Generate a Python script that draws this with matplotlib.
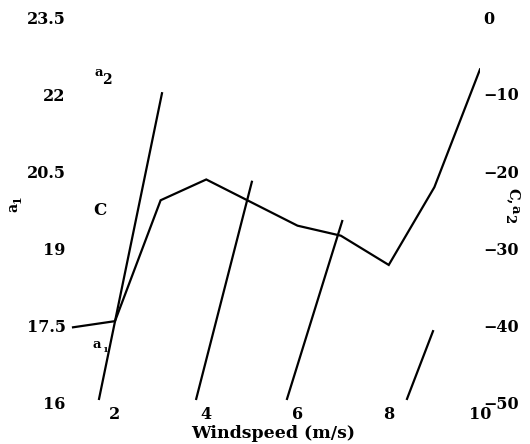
import numpy as np
import matplotlib
matplotlib.use("Agg")
import matplotlib.pyplot as plt

# ---- data ----
windspeed_c = [1.08, 2.0, 3.0, 4.0, 6.0, 6.95, 8.0, 9.0, 10.0]
c_values = [-40.3, -39.5, -23.8, -21.1, -27.1, -28.4, -32.2, -22.1, -6.8]

# a2 (wrapping slanted segments), NaN separates segments
a2_x = [1.65, 3.03, np.nan, 3.78, 5.0, np.nan, 5.77, 6.98, np.nan, 8.40, 8.97]
a2_y = [-49.6, -9.9, np.nan, -49.6, -21.4, np.nan, -49.6, -26.5, np.nan, -49.6, -40.8]

x_ticks = [2, 4, 6, 8, 10]
left_ticks = [16, 17.5, 19, 20.5, 22, 23.5]
left_labels = ["16", "17.5", "19", "20.5", "22", "23.5"]
right_ticks = [-50, -40, -30, -20, -10, 0]
right_labels = ["\u221250", "\u221240", "\u221230", "\u221220", "\u221210", "0"]

W, H = 530, 444
plt.rcParams['font.family'] = ['DejaVu Serif']
plt.rcParams['mathtext.fontset'] = 'dejavuserif'
fig = plt.figure(figsize=(W / 100, H / 100), dpi=100)

def fx(px):
    return px / W

def fy(py):
    return 1 - py / H

TF = 11.5

# axes box in pixels
L, R, T, B = 70, 480, 17, 402
ax = fig.add_axes([fx(L), fy(B), (R - L) / W, (B - T) / H])
ax.set_xlim(2 - (115 - L) / 45.625, 10)
ax.set_ylim(16, 23.5)
for s in ax.spines.values():
    s.set_visible(False)
ax.set_xticks(x_ticks)
ax.set_xticklabels([str(v) for v in x_ticks], fontsize=TF, fontweight='bold')
ax.set_yticks(left_ticks)
ax.set_yticklabels(left_labels, fontsize=TF, fontweight='bold')
ax.tick_params(axis='both', length=0)
ax.tick_params(axis='y', pad=3)
ax.tick_params(axis='x', pad=3)
ax.patch.set_alpha(0)

ax2 = ax.twinx()
ax2.set_ylim(-50, 0)
for s in ax2.spines.values():
    s.set_visible(False)
ax2.set_yticks(right_ticks)
ax2.set_yticklabels(right_labels, fontsize=TF, fontweight='bold')
ax2.tick_params(axis='y', length=0, pad=2)

ax2.plot(windspeed_c, c_values, color='black', lw=1.6, solid_joinstyle='miter')
ax2.plot(a2_x, a2_y, color='black', lw=1.6)

# labels
fig.text(fx(273), fy(433), "Windspeed (m/s)", ha='center', va='center',
         fontsize=12.5, fontweight='bold')
fig.text(fx(13), fy(207), "a", rotation=90, ha='center', va='center',
         fontsize=10, fontweight='bold')
fig.text(fx(17), fy(199), "1", rotation=90, ha='center', va='center',
         fontsize=8, fontweight='bold')
fig.text(fx(513), fy(196), "C,", rotation=-90, ha='center', va='center',
         fontsize=10.5, fontweight='bold')
fig.text(fx(515), fy(209), "a", rotation=-90, ha='center', va='center',
         fontsize=9.5, fontweight='bold')
fig.text(fx(509), fy(219), "2", rotation=-90, ha='center', va='center',
         fontsize=9.5, fontweight='bold')
fig.text(fx(100), fy(210), "C", ha='center', va='center', fontsize=12, fontweight='bold')
fig.text(fx(99), fy(72), "a", ha='center', va='center', fontsize=9.5, fontweight='bold')
fig.text(fx(107), fy(80), "2", ha='center', va='center', fontsize=10, fontweight='bold')
fig.text(fx(97), fy(345), "a", ha='center', va='center', fontsize=9.5, fontweight='bold')
fig.text(fx(105), fy(350), "1", ha='center', va='center', fontsize=6, fontweight='bold')

fig.savefig("out.png", dpi=100)
